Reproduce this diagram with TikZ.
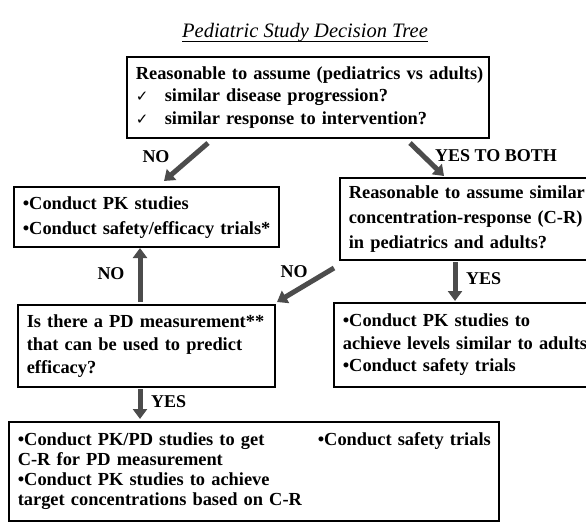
\documentclass[tikz,border=0pt]{standalone}
\usepackage{fontspec}
\setmainfont{Liberation Serif}
\newfontfamily\symfont{DejaVu Sans}
\usetikzlibrary{arrows.meta}
\newcommand\chk{\makebox[29pt][l]{\symfont\mdseries\fontsize{15}{20}\selectfont ✓}}
\newcommand\lns[2]{\fontsize{18.4}{#1}\selectfont\begin{tabular}{@{}l@{}}#2\end{tabular}}
\newcommand\titleuline[1]{\setbox0\hbox{#1}\rlap{\rule[-4.5pt]{\wd0}{1.1pt}}\box0}
\begin{document}
\begin{tikzpicture}[x=1pt,y=-1pt,
  box/.style={draw=black, line width=1.6pt, anchor=north west, inner xsep=9pt, inner ysep=0pt,
    align=left, font=\bfseries\fontsize{18.4}{23.5}\selectfont},
  lab/.style={font=\bfseries\fontsize{18}{20}\selectfont, inner sep=0pt},
  blk/.style={line width=5pt, draw=gray!60!black, -{Triangle[width=14pt,length=10pt]}}]
\useasboundingbox (0,0) rectangle (586,522);
\clip (0,0) rectangle (586,522);
\node[font=\itshape\fontsize{20.5}{24}\selectfont] (title) at (305,33)
  {\titleuline{Pediatric Study Decision Tree}};
\node[box, text width=344pt, minimum height=81pt] (q1) at (126,56)
  {\lns{22.5pt}{Reasonable to assume (pediatrics vs adults)\\ \chk similar disease progression?\\ \chk similar response to intervention?}};
\node[box, text width=247pt, minimum height=60pt] (r1) at (13,186)
  {\lns{25pt}{•Conduct PK studies\\ •Conduct safety/efficacy trials*}};
\node[box, text width=242pt, minimum height=82pt] (q2) at (339,177)
  {\lns{25pt}{Reasonable to assume similar\\ concentration-response (C-R)\\ in pediatrics and adults?}};
\node[box, text width=239pt, minimum height=82pt] (q3) at (17,304)
  {\lns{23pt}{Is there a PD measurement**\\ that can be used to predict\\ efficacy?}};
\node[box, text width=248pt, minimum height=84pt] (r2) at (333,302)
  {\lns{22.5pt}{•Conduct PK studies to\\ achieve levels similar to adults\\ •Conduct safety trials}};
\node[box, text width=472pt, minimum height=99pt] (r3) at (8,421)
  {\lns{20pt}{\makebox[300pt][l]{•Conduct PK/PD studies to get}•Conduct safety trials\\ C-R for PD measurement\\ •Conduct PK studies to achieve\\ target concentrations based on C-R}};
\coordinate (a1s) at (208,143); \coordinate (a1e) at (164,181);
\coordinate (a2s) at (410,143); \coordinate (a2e) at (444,176);
\coordinate (a3s) at (140,302); \coordinate (a3e) at (140,248);
\coordinate (a4s) at (334,268); \coordinate (a4e) at (277,302);
\coordinate (a5s) at (455,262); \coordinate (a5e) at (455,301);
\coordinate (a6s) at (140,389); \coordinate (a6e) at (140,419);
\draw[blk] (a1s) -- (a1e);
\draw[blk] (a2s) -- (a2e);
\draw[blk] (a3s) -- (a3e);
\draw[blk] (a4s) -- (a4e);
\draw[blk] (a5s) -- (a5e);
\draw[blk] (a6s) -- (a6e);
\node[lab] (lno1) at (156,157) {NO};
\node[lab, anchor=west] (lyes1) at (435,156) {YES TO BOTH};
\node[lab] (lno2) at (111,274) {NO};
\node[lab] (lno3) at (294,272) {NO};
\node[lab, anchor=west] (lyes2) at (466,279) {YES};
\node[lab, anchor=west] (lyes3) at (151,402) {YES};
\end{tikzpicture}
\end{document}
